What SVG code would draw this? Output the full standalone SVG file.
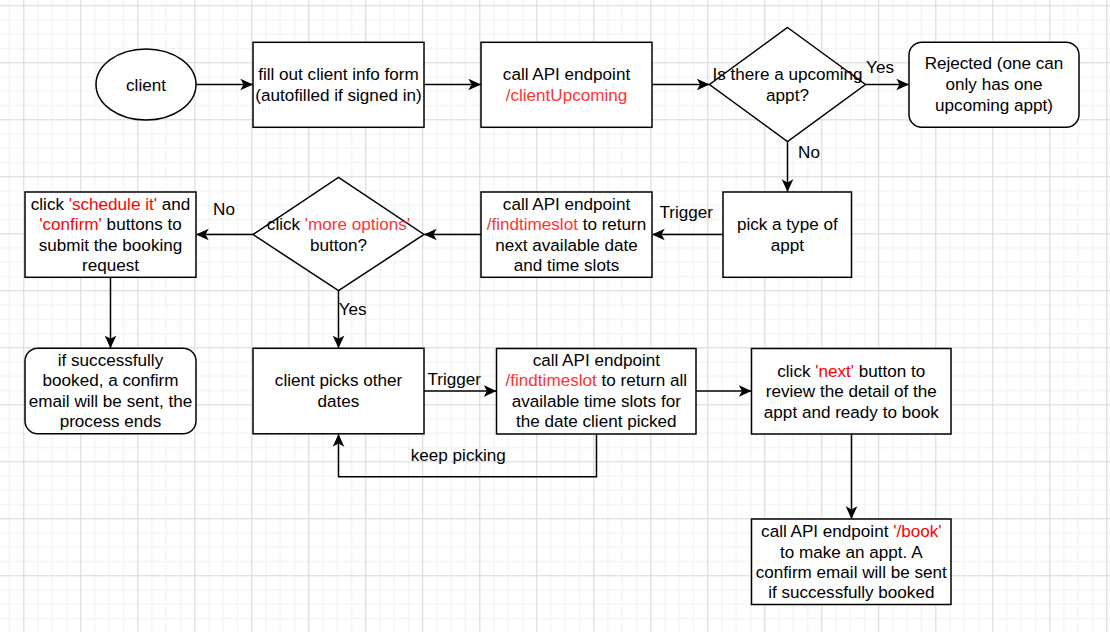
<svg xmlns="http://www.w3.org/2000/svg" width="1110" height="632" viewBox="0 0 1110 632">
<defs>
<pattern id="grid" patternUnits="userSpaceOnUse" x="23.3" y="5.3" width="57" height="57">
<rect x="14.25" y="0" width="1" height="57" fill="#f0f0f0"/>
<rect x="28.5" y="0" width="1" height="57" fill="#f0f0f0"/>
<rect x="42.75" y="0" width="1" height="57" fill="#f0f0f0"/>
<rect x="0" y="14.25" width="57" height="1" fill="#f0f0f0"/>
<rect x="0" y="28.5" width="57" height="1" fill="#f0f0f0"/>
<rect x="0" y="42.75" width="57" height="1" fill="#f0f0f0"/>
<rect x="0" y="0" width="1" height="57" fill="#d6d6d6"/>
<rect x="0" y="0" width="57" height="1" fill="#d6d6d6"/>
</pattern>
<marker id="arr" markerUnits="userSpaceOnUse" markerWidth="14" markerHeight="13" refX="12.7" refY="6" orient="auto">
<path d="M0,0.2 L12.7,6 L0,11.8 L3.2,6 Z" fill="#000"/>
</marker>
<style>
.n{fill:#fff;stroke:#000;stroke-width:1.5}
.t{font-family:"Liberation Sans",Arial,sans-serif;font-size:17.1px;fill:#000;text-anchor:middle}
.r{fill:#ff3333}
.rr{fill:#ff0000}
.c{fill:none;stroke:#000;stroke-width:1.5;marker-end:url(#arr)}
</style>
</defs>
<rect width="1110" height="632" fill="#fff"/>
<rect width="1110" height="632" fill="url(#grid)"/>

<g id="connectors">
<path class="c" d="M196,84.5 H253"/>
<path class="c" d="M424,84.5 H481"/>
<path class="c" d="M652,84.5 H709.5"/>
<path class="c" d="M865.5,84.5 H909"/>
<path class="c" d="M787.5,141.5 V192"/>
<path class="c" d="M723,234.5 H652"/>
<path class="c" d="M481,234.5 H424"/>
<path class="c" d="M253,234.5 H196"/>
<path class="c" d="M110.5,277.3 V348.3"/>
<path class="c" d="M338.5,290.7 V348.3"/>
<path class="c" d="M424,391 H496.5"/>
<path class="c" d="M596.5,434 V476.7 H338.5 V434"/>
<path class="c" d="M696,391 H751.5"/>
<path class="c" d="M851.5,434 V519"/>
<text class="t" x="880" y="73.3">Yes</text>
<text class="t" x="809" y="158.3">No</text>
<text class="t" x="686.3" y="218.3">Trigger</text>
<text class="t" x="224" y="215.3">No</text>
<text class="t" x="352.7" y="315.3">Yes</text>
<text class="t" x="454.3" y="385">Trigger</text>
<text class="t" x="458.3" y="461">keep picking</text>
</g>

<g id="client">
<ellipse class="n" cx="146" cy="84.5" rx="50" ry="35.5"/>
<text class="t" x="146" y="90.5">client</text>
</g>
<g id="form">
<rect class="n" x="253" y="42.3" width="171" height="85"/>
<text class="t" x="338.5" y="80">fill out client info form</text>
<text class="t" x="338.5" y="100.5">(autofilled if signed in)</text>
</g>
<g id="api-upcoming">
<rect class="n" x="481" y="42.3" width="171" height="85"/>
<text class="t" x="566.5" y="80">call API endpoint</text>
<text class="t r" x="566.5" y="100.5">/clientUpcoming</text>
</g>
<g id="decision-upcoming">
<polygon class="n" points="787.5,27.5 865.5,84.5 787.5,141.5 709.5,84.5"/>
<text class="t" x="787.5" y="80">Is there a upcoming</text>
<text class="t" x="787.5" y="100.5">appt?</text>
</g>
<g id="rejected">
<rect class="n" x="909" y="42.3" width="170" height="85" rx="12.75"/>
<text class="t" x="994" y="69.3">Rejected (one can</text>
<text class="t" x="994" y="90">only has one</text>
<text class="t" x="994" y="111">upcoming appt)</text>
</g>
<g id="pick-type">
<rect class="n" x="723" y="192" width="128.5" height="85.3"/>
<text class="t" x="787.3" y="230.3">pick a type of</text>
<text class="t" x="787.3" y="250.7">appt</text>
</g>
<g id="api-findtimeslot">
<rect class="n" x="481" y="192" width="171" height="85.3"/>
<text class="t" x="566.5" y="209.5">call API endpoint</text>
<text class="t" x="566.5" y="230"><tspan class="r">/findtimeslot</tspan> to return</text>
<text class="t" x="566.5" y="250.5">next available date</text>
<text class="t" x="566.5" y="271">and time slots</text>
</g>
<g id="decision-more">
<polygon class="n" points="338.5,177.3 424,234.5 338.5,290.7 253,234.5"/>
<text class="t" x="338.5" y="230">click <tspan class="r">'more options'</tspan></text>
<text class="t" x="338.5" y="250.5">button?</text>
</g>
<g id="schedule">
<rect class="n" x="25" y="192" width="171" height="85.3"/>
<text class="t" x="110.5" y="209.5">click <tspan class="rr">'schedule it'</tspan> and</text>
<text class="t" x="110.5" y="230"><tspan class="rr">'confirm'</tspan> buttons to</text>
<text class="t" x="110.5" y="250.5">submit the booking</text>
<text class="t" x="110.5" y="271">request</text>
</g>
<g id="success">
<rect class="n" x="25" y="348.3" width="171" height="85.5" rx="12.75"/>
<text class="t" x="110.5" y="365.5">if successfully</text>
<text class="t" x="110.5" y="386">booked, a confirm</text>
<text class="t" x="110.5" y="406.5">email will be sent, the</text>
<text class="t" x="110.5" y="427">process ends</text>
</g>
<g id="picks-dates">
<rect class="n" x="253" y="348.3" width="171" height="85.5"/>
<text class="t" x="338.5" y="386">client picks other</text>
<text class="t" x="338.5" y="406.5">dates</text>
</g>
<g id="api-findtimeslot-all">
<rect class="n" x="496.5" y="348.5" width="199.5" height="85.5"/>
<text class="t" x="596.3" y="366">call API endpoint</text>
<text class="t" x="596.3" y="386.3"><tspan class="r">/findtimeslot</tspan> to return all</text>
<text class="t" x="596.3" y="407">available time slots for</text>
<text class="t" x="596.3" y="427">the date client picked</text>
</g>
<g id="next">
<rect class="n" x="751.5" y="348.5" width="199.5" height="85.5"/>
<text class="t" x="851.3" y="376.7">click <tspan class="rr">'next'</tspan> button to</text>
<text class="t" x="851.3" y="397">review the detail of the</text>
<text class="t" x="851.3" y="417.5">appt and ready to book</text>
</g>
<g id="book">
<rect class="n" x="751.5" y="519" width="199.5" height="85.5"/>
<text class="t" x="851.3" y="537">call API endpoint <tspan class="rr">'/book'</tspan></text>
<text class="t" x="851.3" y="557.5">to make an appt. A</text>
<text class="t" x="851.3" y="578">confirm email will be sent</text>
<text class="t" x="851.3" y="598">if successfully booked</text>
</g>
</svg>
